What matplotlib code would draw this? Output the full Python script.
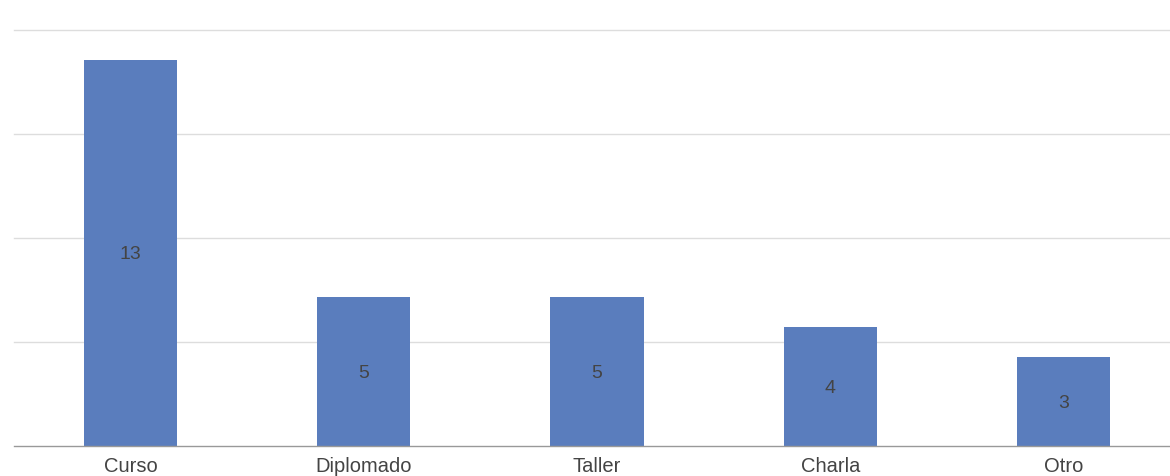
import matplotlib.pyplot as plt
import numpy as np

plt.rcParams['font.family'] = ['Liberation Sans', 'DejaVu Sans']

categories = ["Curso", "Diplomado", "Taller", "Charla", "Otro"]
values = [13, 5, 5, 4, 3]
grid_ticks = [3.5, 7, 10.5, 14]

fig = plt.figure(figsize=(11.7, 4.76), dpi=100)
# axes runs slightly past the right edge, like the original page crop
ax = fig.add_axes([14/1170, 1 - 446/476, (1180 - 14)/1170, 416/476])

x = np.arange(len(categories))
bars = ax.bar(x, values, width=0.40, color="#5a7dbd", zorder=3)

for xi, v in zip(x, values):
    ax.text(xi, v / 2, str(v), ha="center", va="center_baseline", fontsize=14, color="#444444", zorder=4)

ax.set_xlim(-0.5, len(categories) - 0.5)
ax.set_ylim(0, 14)
ax.set_yticks(grid_ticks)
for g in grid_ticks:
    ax.axhline(g, color="#dddddd", lw=1, zorder=1, clip_on=False)

ax.set_xticks(x)
ax.set_xticklabels(categories, fontsize=14.5, color="#444444")
ax.tick_params(axis="x", length=0, pad=8)
ax.tick_params(axis="y", length=0, labelleft=False)

for s in ["top", "right", "left"]:
    ax.spines[s].set_visible(False)
ax.spines["bottom"].set_color("#999999")
ax.spines["bottom"].set_linewidth(1)
ax.spines["bottom"].set_zorder(5)

fig.savefig("out.png", dpi=100)
